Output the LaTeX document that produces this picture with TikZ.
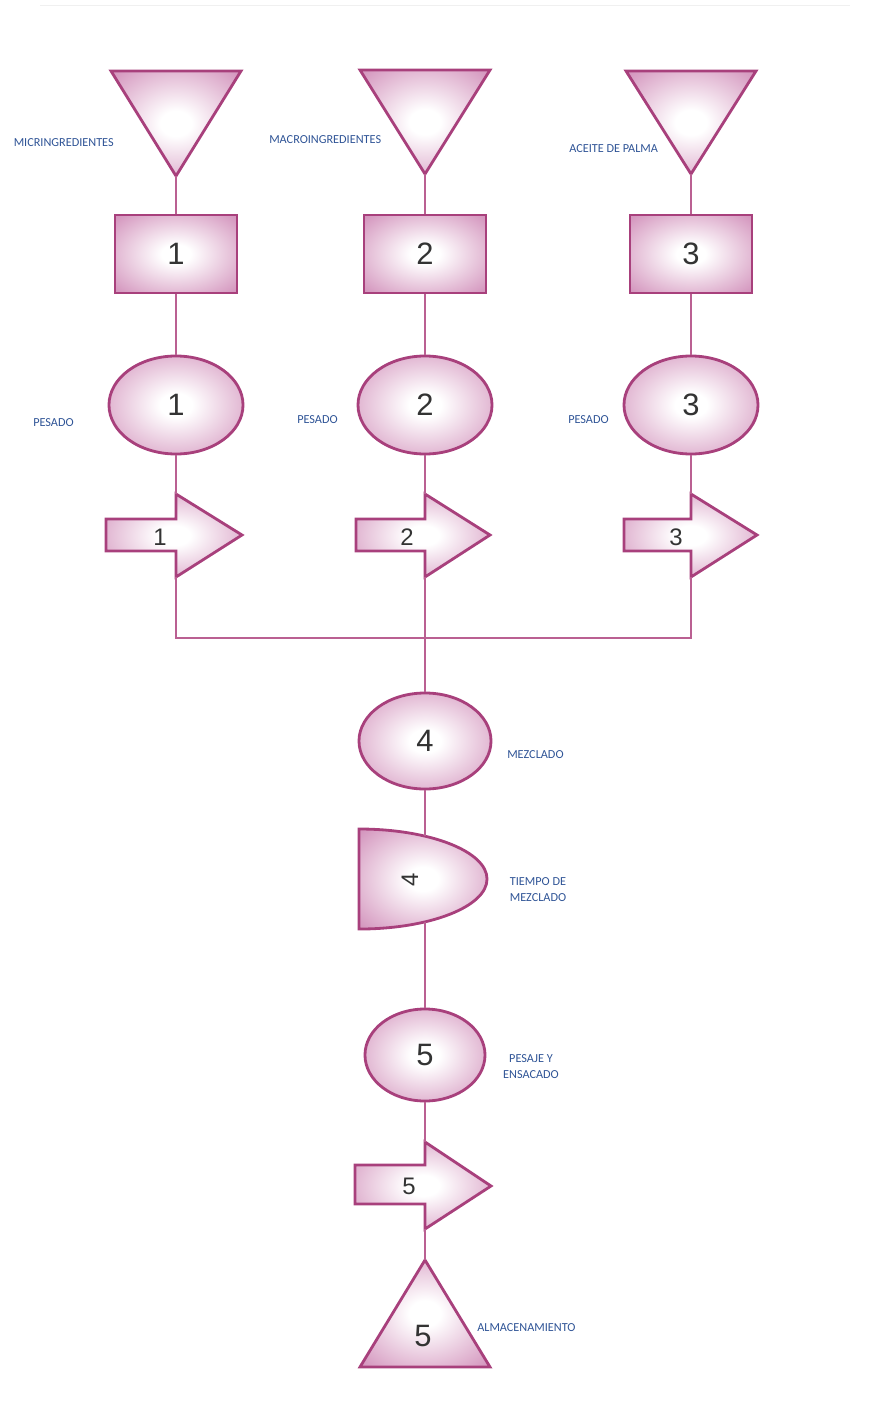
\documentclass[tikz,border=0pt]{standalone}
\usepackage{fontspec}
\setmainfont{Carlito}
\newfontfamily\numfont{Liberation Sans}
\usetikzlibrary{shapes.geometric}

\definecolor{flowpink}{RGB}{212,150,190}
\definecolor{flowedge}{RGB}{168,64,124}
\definecolor{flowline}{RGB}{186,96,146}
\definecolor{flowblue}{RGB}{47,84,150}
\pgfdeclareradialshading{pinkglow}{\pgfpoint{0bp}{0bp}}{color(0bp)=(white); color(6bp)=(white); color(34bp)=(flowpink); color(50bp)=(flowpink)}

\tikzset{
  symb/.style={draw=flowedge,line width=2pt,shade,shading=pinkglow},
  boxsym/.style={symb,rectangle,minimum width=3.05cm,minimum height=1.95cm,inner sep=0pt},
  opsym/.style={symb,ellipse,inner sep=0pt},
  conn/.style={draw=flowline,line width=1.4pt},
  num/.style={font=\numfont\fontsize{22}{22}\selectfont,text=black!80},
  smallnum/.style={font=\numfont\fontsize{17}{17}\selectfont,text=black!80,inner sep=0pt},
  lbl/.style={font=\fontsize{8.7}{11.3}\selectfont,text=flowblue,align=center,inner sep=0pt}
}

\begin{document}
\begin{tikzpicture}[x=0.025cm,y=-0.025cm]
\useasboundingbox (0,0) rectangle (883,1412);
\draw[black!6,line width=0.5pt] (40,5) -- (850,5);
% materias primas
\draw[symb] (111,71) -- (241,71) -- (176,176) -- cycle;
\coordinate (in1) at (176,176);
\draw[symb] (360,70) -- (490,70) -- (425,174) -- cycle;
\coordinate (in2) at (425,174);
\draw[symb] (626,71) -- (756,71) -- (691,174) -- cycle;
\coordinate (in3) at (691,174);
\node[lbl,anchor=east] (micro) at (114,143) {MICRINGREDIENTES};
\node[lbl,anchor=west] (macro) at (269,140) {MACROINGREDIENTES};
\node[lbl,anchor=west] (aceite) at (569,149) {ACEITE DE PALMA};
% inspeccion
\node[boxsym,num] (box1) at (176,254) {1};
\node[boxsym,num] (box2) at (425,254) {2};
\node[boxsym,num] (box3) at (691,254) {3};
% pesado
\node[opsym,num,minimum width=3.35cm,minimum height=2.45cm] (op1) at (176,405) {1};
\node[opsym,num,minimum width=3.35cm,minimum height=2.45cm] (op2) at (425,405) {2};
\node[opsym,num,minimum width=3.35cm,minimum height=2.45cm] (op3) at (691,405) {3};
\node[lbl,anchor=west] (pes1) at (33,423) {PESADO};
\node[lbl,anchor=west] (pes2) at (297,420) {PESADO};
\node[lbl,anchor=west] (pes3) at (568,420) {PESADO};
% transporte
\draw[symb] (106,519) -- (176,519) -- (176,494) -- (242,535) -- (176,577) -- (176,551) -- (106,551) -- cycle;
\node[smallnum] (mv1) at (160,537) {1};
\coordinate (mv1n) at (176,494);
\coordinate (mv1s) at (176,577);
\draw[symb] (356,519) -- (425,519) -- (425,494) -- (490,535) -- (425,577) -- (425,551) -- (356,551) -- cycle;
\node[smallnum] (mv2) at (407,537) {2};
\coordinate (mv2n) at (425,494);
\coordinate (mv2s) at (425,577);
\draw[symb] (624,519) -- (691,519) -- (691,494) -- (757,535) -- (691,577) -- (691,551) -- (624,551) -- cycle;
\node[smallnum] (mv3) at (676,537) {3};
\coordinate (mv3n) at (691,494);
\coordinate (mv3s) at (691,577);
\coordinate (join) at (425,638);
% mezclado
\node[opsym,num,minimum width=3.3cm,minimum height=2.4cm] (op4) at (425,741) {4};
\node[lbl,anchor=west] (mez) at (507,755) {MEZCLADO};
\draw[symb] (359,829) arc[start angle=90,end angle=-90,x radius=3.2cm,y radius=1.25cm] -- cycle;
\node[smallnum,rotate=90] (dly4) at (410,880) {4};
\coordinate (dly4n) at (425,836);
\coordinate (dly4s) at (425,922);
\node[lbl] (tiempo) at (538,890) {TIEMPO DE\\MEZCLADO};
% pesaje y ensacado
\node[opsym,num,minimum width=3.0cm,minimum height=2.3cm] (op5) at (425,1055) {5};
\node[lbl] (pesaje) at (531,1067) {PESAJE Y\\ENSACADO};
\draw[symb] (355,1165) -- (425,1165) -- (425,1142) -- (491,1186) -- (425,1229) -- (425,1204) -- (355,1204) -- cycle;
\node[smallnum] (mv5) at (409,1186) {5};
\coordinate (mv5n) at (425,1142);
\coordinate (mv5s) at (425,1229);
% almacenamiento
\draw[symb] (425,1260) -- (490,1367) -- (360,1367) -- cycle;
\coordinate (st5) at (425,1260);
\node[num] (alm) at (423,1336) {5};
\node[lbl,anchor=west] (almac) at (477,1328) {ALMACENAMIENTO};
% lineas
\draw[conn] (in1) -- (box1);
\draw[conn] (in2) -- (box2);
\draw[conn] (in3) -- (box3);
\draw[conn] (box1) -- (op1);
\draw[conn] (box2) -- (op2);
\draw[conn] (box3) -- (op3);
\draw[conn] (op1) -- (mv1n);
\draw[conn] (op2) -- (mv2n);
\draw[conn] (op3) -- (mv3n);
\draw[conn] (mv1s) |- (join);
\draw[conn] (mv3s) |- (join);
\draw[conn] (mv2s) -- (op4);
\draw[conn] (op4) -- (dly4n);
\draw[conn] (dly4s) -- (op5);
\draw[conn] (op5) -- (mv5n);
\draw[conn] (mv5s) -- (st5);
\end{tikzpicture}
\end{document}
